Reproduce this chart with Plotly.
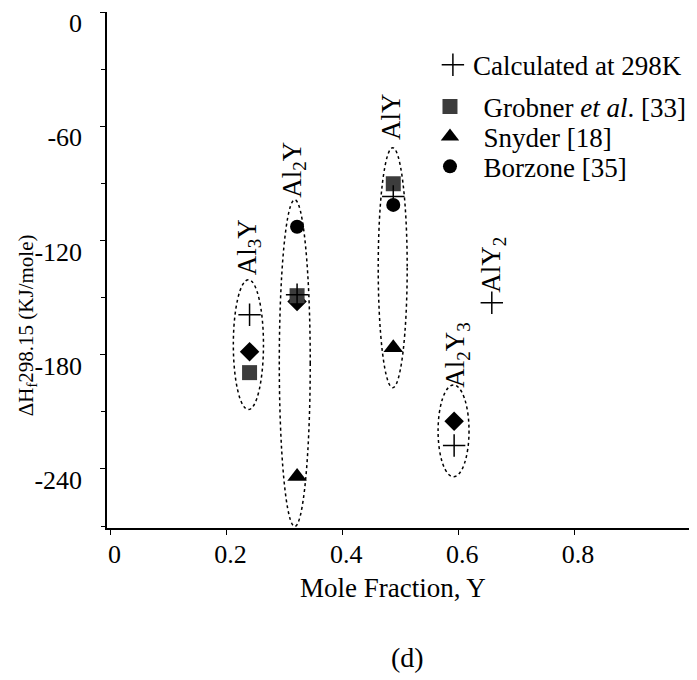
import plotly.graph_objects as go

# ---- data ----
calc_x = [0.240, 0.322, 0.488, 0.593, 0.658]
calc_y = [-159.0, -148.5, -96.9, -227.7, -152.7]

grobner_x = [0.240, 0.322, 0.488]
grobner_y = [-189.4, -149.0, -90.2]

snyder_x = [0.322, 0.488]
snyder_y = [-244.0, -176.3]

borzone_x = [0.322, 0.488]
borzone_y = [-112.8, -101.3]

other_x = [0.240, 0.322, 0.593]
other_y = [-178.4, -152.0, -215.0]

# ellipse groupings: centre x, centre y, half-width, half-height
ell_cx = [0.238, 0.318, 0.487, 0.592]
ell_cy = [-174.7, -184.4, -134.3, -220.0]
ell_rx = [0.026, 0.0267, 0.025, 0.0267]
ell_ry = [34.1, 85.8, 63.0, 24.1]

# phase labels
phase_text = ["Al<sub>3</sub>Y", "Al<sub>2</sub>Y", "AlY", "Al<sub>2</sub>Y<sub>3</sub>", "AlY<sub>2</sub>"]
phase_x = [0.238, 0.316, 0.483, 0.598, 0.660]
phase_y = [-123.3, -83.0, -55.0, -180.5, -132.7]

x_ticks = [0, 0.2, 0.4, 0.6, 0.8, 1]
y_ticks = [0, -60, -120, -180, -240]

FONT = "Liberation Serif"
NB = "\u00a0\u00a0"

fig = go.Figure()

fig.add_trace(go.Scatter(x=other_x, y=other_y, mode="markers", showlegend=False,
                         marker=dict(symbol="diamond", size=15, color="black")))
fig.add_trace(go.Scatter(x=grobner_x, y=grobner_y, mode="markers",
                         name=NB + "Grobner <i>et al</i>. [33]", legend="legend2",
                         marker=dict(symbol="square", size=15, color="#3c3c3c")))
fig.add_trace(go.Scatter(x=snyder_x, y=snyder_y, mode="markers",
                         name=NB + "Snyder [18]", legend="legend3",
                         marker=dict(symbol="triangle-up", size=17, color="black")))
fig.add_trace(go.Scatter(x=borzone_x, y=borzone_y, mode="markers",
                         name=NB + "Borzone [35]", legend="legend4",
                         marker=dict(symbol="circle", size=14, color="black")))
fig.add_trace(go.Scatter(x=calc_x, y=calc_y, mode="markers",
                         name="Calculated at 298K", legend="legend",
                         marker=dict(symbol="cross-thin", size=16, color="black",
                                     line=dict(color="black", width=1.5))))

for cx, cy, rx, ry in zip(ell_cx, ell_cy, ell_rx, ell_ry):
    fig.add_shape(type="circle", xref="x", yref="y",
                  x0=cx - rx, x1=cx + rx, y0=cy - ry, y1=cy + ry,
                  line=dict(color="black", width=1.5, dash="dot"), layer="below")

for t, x, y in zip(phase_text, phase_x, phase_y):
    fig.add_annotation(x=x, y=y, xref="x", yref="y", text=t, textangle=-90,
                       xanchor="center", yanchor="middle",
                       showarrow=False, font=dict(family=FONT, size=27, color="black"))

# axis titles and caption
fig.add_annotation(x=-0.137, y=0.213, xref="paper", yref="paper",
                   text="ΔH<sub>f</sub>298.15 (KJ/mole)", textangle=-90, showarrow=False,
                   xanchor="center", yanchor="bottom",
                   font=dict(family=FONT, size=21, color="black"))
fig.add_annotation(x=0.4906, y=-0.116, xref="paper", yref="paper",
                   text="Mole Fraction, Y", showarrow=False,
                   xanchor="center", yanchor="middle",
                   font=dict(family=FONT, size=27, color="black"))
fig.add_annotation(x=0.5146, y=-0.25, xref="paper", yref="paper",
                   text="(d)", showarrow=False,
                   xanchor="center", yanchor="middle",
                   font=dict(family=FONT, size=28, color="black"))

leg_common = dict(xanchor="left", yanchor="middle", bgcolor="rgba(0,0,0,0)",
                  font=dict(family=FONT, size=27, color="black"), itemsizing="trace")

fig.update_layout(
    width=689, height=672,
    margin=dict(l=99, r=7, t=4, b=152),
    paper_bgcolor="white", plot_bgcolor="white",
    font=dict(family=FONT, size=26, color="black"),
    legend=dict(x=0.559, y=0.897, **leg_common),
    legend2=dict(x=0.554, y=0.816, **leg_common),
    legend3=dict(x=0.554, y=0.758, **leg_common),
    legend4=dict(x=0.554, y=0.700, **leg_common),
    xaxis=dict(range=[-0.006, 1.0], tickvals=x_ticks, ticktext=[str(v) for v in x_ticks],
               showgrid=False, zeroline=False, showline=True, linecolor="black", linewidth=1.5,
               ticks="outside", ticklen=5, tickcolor="black", ticklabelshift=4,
               ticklabelstandoff=-3,
               ticklabeloverflow="allow", automargin=False,
               tickfont=dict(family=FONT, size=26)),
    yaxis=dict(range=[-271, 0], tickvals=y_ticks, ticktext=[str(v) for v in y_ticks],
               showgrid=False, zeroline=False, showline=True, linecolor="black", linewidth=1.5,
               ticks="outside", ticklen=5, tickcolor="black", ticklabelstandoff=13,
               ticklabelshift=11, ticklabeloverflow="allow", automargin=False,
               tickfont=dict(family=FONT, size=26),
               minor=dict(dtick=30, tick0=0, ticks="outside", ticklen=4, tickcolor="black")),
)

fig.write_html("out.html")
